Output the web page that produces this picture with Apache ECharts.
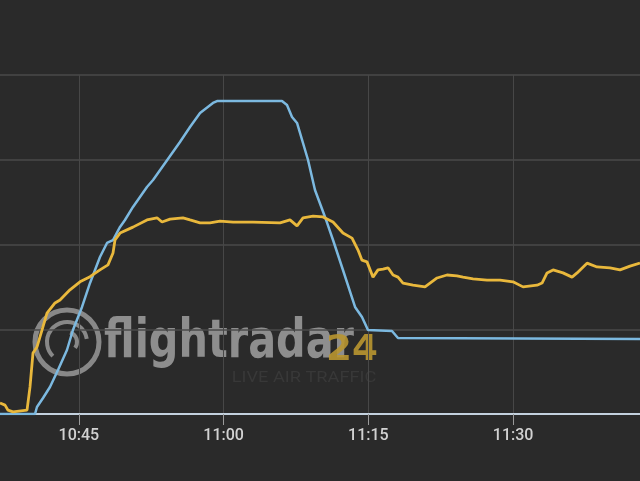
<!DOCTYPE html>
<html><head><meta charset="utf-8">
<script src="https://cdn.jsdelivr.net/npm/echarts@6/dist/echarts.min.js"></script>
<style>html,body{margin:0;padding:0;background:#2a2a2a}#c{width:640px;height:481px}</style>
</head><body><div id="c"></div><script>
// time values are minutes after 10:00
const axisStartMin = 36.83;
const axisEndMin = 103.15;

const altMinutes = [36.83, 40.46, 40.66, 41.29, 42.01, 42.84, 43.77, 44.39, 45.33, 46.16, 47.19, 47.92, 48.54, 49.27, 49.78, 50.61, 52.06, 52.69, 55.48, 56.52, 57.56, 58.90, 59.32, 66.05, 66.57, 67.09, 67.61, 68.75, 69.47, 70.51, 71.34, 72.37, 73.62, 74.34, 74.96, 77.45, 78.07, 103.15];
const altFeet = [0, 0, 830, 1890, 3190, 5190, 7550, 9910, 12630, 15460, 18530, 20180, 20530, 22070, 22890, 24430, 26790, 27610, 32100, 33870, 35520, 36700, 36930, 36930, 36460, 35050, 34340, 29970, 26430, 23250, 20530, 16990, 12630, 11450, 9910, 9790, 8970, 8850];

const spdMinutes = [36.83, 37.35, 37.66, 38.18, 39.63, 39.94, 40.25, 40.66, 41.18, 41.70, 42.53, 43.05, 44.08, 45.12, 46.16, 47.19, 48.02, 48.54, 48.75, 49.27, 50.61, 52.06, 53.10, 53.62, 54.45, 55.79, 56.52, 57.56, 58.59, 59.63, 60.98, 63.05, 65.85, 66.88, 67.61, 68.23, 69.27, 70.30, 71.34, 72.37, 73.31, 73.93, 74.34, 74.86, 75.48, 76.00, 76.52, 77.04, 77.56, 78.07, 78.59, 79.63, 80.87, 82.12, 83.15, 84.19, 84.81, 85.85, 87.30, 88.65, 89.99, 91.03, 92.48, 93.00, 93.52, 94.14, 95.17, 96.11, 96.63, 97.66, 98.70, 100.04, 101.08, 102.12, 103.15];
const spdKnots = [26, 21, 9, 5, 9, 64, 144, 158, 198, 238, 262, 269, 293, 312, 324, 340, 352, 380, 411, 427, 441, 458, 463, 453, 460, 463, 458, 451, 451, 455, 453, 453, 451, 458, 444, 463, 467, 465, 453, 427, 415, 387, 363, 359, 323, 340, 342, 345, 328, 323, 309, 304, 300, 321, 328, 326, 323, 319, 316, 316, 312, 300, 304, 309, 333, 340, 333, 323, 333, 356, 347, 345, 340, 349, 356];

const xTickLabels = ['10:45', '11:00', '11:15', '11:30'];

const toMin = s => { const [h, m] = s.split(':').map(Number); return (h - 10) * 60 + m; };
const toLabel = v => { const h = 10 + Math.floor(v / 60), m = Math.round(v - (h - 10) * 60); return h + ':' + String(m).padStart(2, '0'); };
const tickValues = xTickLabels.map(toMin);
const zip = (ts, vs) => ts.map((t, i) => [t, vs[i]]);

const chart = echarts.init(document.getElementById('c'));
chart.setOption({
  backgroundColor: '#2a2a2a',
  animation: false,
  grid: {left: 0, right: 0, top: 75, bottom: 67},
  xAxis: {
    type: 'value',
    min: axisStartMin, max: axisEndMin,
    axisLine: {lineStyle: {color: '#c3d1de', width: 2}},
    axisTick: {show: true, length: 11, customValues: tickValues, lineStyle: {color: '#9a9a9a', width: 1}},
    axisLabel: {color: '#d2d2d2', fontFamily: 'Roboto', fontWeight: 500, fontSize: 16, margin: 14,
      customValues: tickValues, formatter: v => toLabel(v)},
    splitLine: {show: true, lineStyle: {color: '#474747', width: 1}}
  },
  yAxis: [
    {type: 'value', min: 0, max: 40000, interval: 10000,
     axisLine: {show: false}, axisTick: {show: false}, axisLabel: {show: false},
     splitLine: {lineStyle: {color: '#4a4a4a', width: 1.5}}},
    {type: 'value', min: 0, max: 800, show: false, splitLine: {show: false}}
  ],
  graphic: [
    {type: 'circle', shape: {cx: 67, cy: 342, r: 32}, style: {fill: 'none', stroke: 'rgba(160,160,160,0.8)', lineWidth: 5}},
    {type: 'arc', shape: {cx: 67, cy: 342, r: 20, startAngle: -Math.PI * 0.05, endAngle: Math.PI * 0.75, clockwise: false}, style: {fill: 'none', stroke: 'rgba(160,160,160,0.8)', lineWidth: 4}},
    {type: 'arc', shape: {cx: 67, cy: 342, r: 10, startAngle: Math.PI * 0.2, endAngle: Math.PI * 1.6, clockwise: false}, style: {fill: 'none', stroke: 'rgba(160,160,160,0.8)', lineWidth: 4}},
    {type: 'text', x: 104, y: 343, scaleX: 0.92, scaleY: 1.08, style: {text: 'flightradar', fill: 'rgba(160,160,160,0.85)', font: 'bold 50px "DejaVu Sans Condensed"', align: 'left', verticalAlign: 'middle'}},
    {type: 'text', x: 326, y: 351, scaleX: 1.15, style: {text: '24', fill: 'rgba(185,150,48,0.9)', font: 'bold 36px "DejaVu Sans Condensed"', align: 'left', verticalAlign: 'middle'}},
    {type: 'text', x: 304, y: 378, scaleX: 1.3, style: {text: 'LIVE AIR TRAFFIC', fill: '#383838', font: '14px Roboto', align: 'center', verticalAlign: 'middle'}}
  ],
  series: [
    {type: 'line', name: 'Altitude', yAxisIndex: 0, data: zip(altMinutes, altFeet), showSymbol: false,
     lineStyle: {color: '#7cb9e0', width: 2.5}, z: 3},
    {type: 'line', name: 'Speed', yAxisIndex: 1, data: zip(spdMinutes, spdKnots), showSymbol: false,
     lineStyle: {color: '#e9b83c', width: 2.8}, z: 4}
  ]
});
</script></body></html>
